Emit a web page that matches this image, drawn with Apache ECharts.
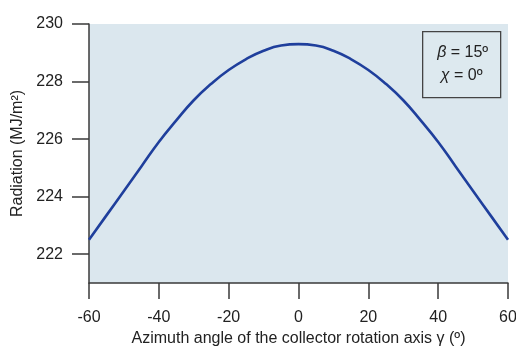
<!DOCTYPE html>
<html>
<head>
<meta charset="utf-8">
<script src="https://cdn.jsdelivr.net/npm/echarts@6/dist/echarts.min.js"></script>
<style>html,body{margin:0;padding:0;background:#fff;}#c{width:516px;height:347px;}</style>
</head>
<body>
<div id="c"></div>
<script>
var azimuth = [-60,-55,-50,-45,-40,-35,-30,-25,-20,-15,-10,-5,0,5,10,15,20,25,30,35,40,45,50,55,60];
var radiation = [222.5,223.35,224.2,225.05,225.9,226.65,227.35,227.92,228.4,228.78,229.07,229.25,229.3,229.25,229.07,228.78,228.4,227.92,227.35,226.65,225.9,225.05,224.2,223.35,222.5];
var xTicks = [-60,-40,-20,0,20,40,60];
var yTicks = [222,224,226,228,230];
var annotation = [['β', ' = 15º'], ['χ', ' = 0º']];

var chart = echarts.init(document.getElementById('c'), null, {renderer:'canvas'});
var axisColor = '#3a3a3a';
var font = 'Liberation Sans, Arial, sans-serif';
var richStyle = {
  it: {fontStyle: 'italic', fontSize: 16, fontFamily: font, fill: '#222'},
  n: {fontSize: 16, fontFamily: font, fill: '#222'}
};
chart.setOption({
  animation: false,
  grid: {left: 89, right: 8, top: 24, bottom: 64, show: true, backgroundColor: '#dbe7ee', borderWidth: 0, containLabel: false, outerBoundsMode: 'none'},
  xAxis: {
    type: 'value', min: -60, max: 60, interval: 20,
    name: 'Azimuth angle of the collector rotation axis γ (º)',
    nameLocation: 'middle', nameGap: 45,
    nameTextStyle: {fontSize: 16, color: '#222', fontFamily: font},
    axisLine: {show: true, onZero: false, lineStyle: {color: axisColor, width: 1.5}},
    axisTick: {show: true, inside: false, length: 16, lineStyle: {color: axisColor, width: 1.5}},
    axisLabel: {margin: 27, fontSize: 16, color: '#222', fontFamily: font},
    splitLine: {show: false}
  },
  yAxis: {
    type: 'value', min: 221, max: 230,
    name: 'Radiation (MJ/m²)',
    nameLocation: 'middle', nameGap: 63,
    nameTextStyle: {fontSize: 16, color: '#222', fontFamily: font},
    axisLine: {show: true, onZero: false, lineStyle: {color: axisColor, width: 1.5}},
    axisTick: {show: true, length: 17, customValues: yTicks, lineStyle: {color: axisColor, width: 1.5}},
    axisLabel: {margin: 26, fontSize: 16, color: '#222', fontFamily: font, customValues: yTicks},
    splitLine: {show: false}
  },
  series: [{
    type: 'line', smooth: true, showSymbol: false,
    data: azimuth.map(function(a, i){ return [a, radiation[i]]; }),
    lineStyle: {color: '#1f3f9c', width: 2.6}
  }],
  graphic: [{
    type: 'group', left: 422, top: 31,
    children: [
      {type: 'rect', shape: {x: 0, y: 0, width: 78, height: 66}, style: {fill: '#dde9ef', stroke: '#444', lineWidth: 1.3}},
      {type: 'text', x: 40, y: 21, style: {text: '{it|' + annotation[0][0] + '}{n|' + annotation[0][1] + '}', rich: richStyle, align: 'center', verticalAlign: 'middle'}},
      {type: 'text', x: 39, y: 44, style: {text: '{it|' + annotation[1][0] + '}{n|' + annotation[1][1] + '}', rich: richStyle, align: 'center', verticalAlign: 'middle'}}
    ]
  }]
});
</script>
</body>
</html>
